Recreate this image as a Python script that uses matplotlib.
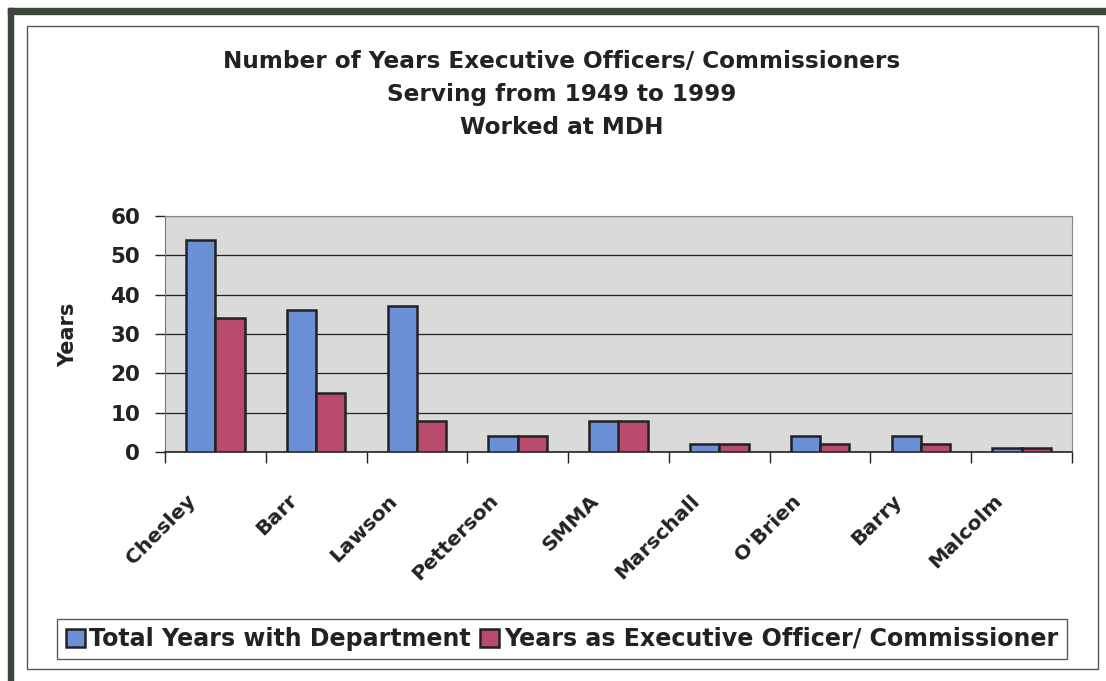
import numpy as np
import matplotlib
matplotlib.use("Agg")
from matplotlib import pyplot as plt
from matplotlib.patches import Rectangle
from matplotlib.transforms import ScaledTranslation

# data
names = ["Chesley", "Barr", "Lawson", "Petterson", "SMMA",
         "Marschall", "O'Brien", "Barry", "Malcolm"]
total_years = [54, 36, 37, 4, 8, 2, 4, 4, 1]
exec_years = [34, 15, 8, 4, 8, 2, 2, 2, 1]
series_labels = ["Total Years with Department",
                 "Years as Executive Officer/ Commissioner"]
title_lines = ["Number of Years Executive Officers/ Commissioners",
               "Serving from 1949 to 1999",
               "Worked at MDH"]
yticks = [0, 10, 20, 30, 40, 50, 60]

# wide bold face to mimic the spaced-out Arial of the scan
plt.rcParams['font.family'] = ['DejaVu Sans']
plt.rcParams['font.weight'] = 'bold'
plt.rcParams['axes.labelweight'] = 'bold'

W, H = 1106, 681
fig = plt.figure(figsize=(W / 100, H / 100), dpi=100)
fig.patch.set_facecolor('white')

# outer dark frame (top and left) and thin inner box
frame_col = '#3c463c'
fig.patches.append(Rectangle((8 / W, 1 - 14 / H), 1 - 8 / W, 6 / H,
                             transform=fig.transFigure, color=frame_col, zorder=0))
fig.patches.append(Rectangle((8 / W, 0), 5 / W, 1 - 8 / H,
                             transform=fig.transFigure, color=frame_col, zorder=0))
fig.patches.append(Rectangle((27 / W, 1 - 669 / H), (1098 - 27) / W, (669 - 26) / H,
                             transform=fig.transFigure, fill=False,
                             edgecolor='#555555', lw=1, zorder=0))

ax = fig.add_axes([165 / W, 1 - 452 / H, 907 / W, 236 / H])
ax.set_facecolor('#dadada')

x = np.arange(len(names))
w = 0.29
blue = '#6b90d6'
red = '#b84b6c'
b1 = ax.bar(x - w / 2, total_years, w, color=blue, edgecolor='#222222', lw=1.8,
            label=series_labels[0], zorder=3)
b2 = ax.bar(x + w / 2, exec_years, w, color=red, edgecolor='#222222', lw=1.8,
            label=series_labels[1], zorder=3)

ax.set_xlim(-0.5, len(names) - 0.5)
ax.set_ylim(0, 60)
ax.set_yticks(yticks)
ax.set_yticklabels([str(v) for v in yticks], fontsize=15.5, color='#222222')
ax.yaxis.grid(True, color='#222222', lw=0.9, zorder=1)
ax.set_axisbelow(True)

ax.set_xticks(x)
ax.set_xticklabels(names, rotation=45, ha='right', rotation_mode='anchor',
                   fontsize=14.7, color='#222222')
ax.set_xticks(np.arange(-0.5, len(names)), minor=True)
ax.tick_params(axis='x', which='major', length=0, pad=28)
ax.tick_params(axis='x', which='minor', length=8, width=1, color='#222222')
ax.tick_params(axis='y', length=7, width=1, color='#222222', pad=11)
shift = ScaledTranslation(-29 / 100, 0, fig.dpi_scale_trans)
for lab in ax.get_xticklabels():
    lab.set_transform(lab.get_transform() + shift)

for side in ['top', 'right']:
    ax.spines[side].set_color('#888888')
ax.spines['left'].set_color('#777777')
ax.spines['bottom'].set_color('#222222')
ax.spines['bottom'].set_linewidth(1.2)

ax.set_ylabel("Years", fontsize=15, color='#222222')
ax.yaxis.set_label_coords((78 - 165) / 907, (452 - 335) / 236)

for i, line in enumerate(title_lines):
    fig.text(562 / W, 1 - (62 + 33 * i) / H, line, ha='center', va='center',
             fontsize=16.7, color='#222222')

leg = fig.legend(handles=[b1, b2], loc='center', bbox_to_anchor=(562 / W, 1 - 639 / H),
                 ncol=2, fontsize=17.1, frameon=True, fancybox=False,
                 handlelength=0.8, handleheight=0.8, handletextpad=0.2,
                 columnspacing=0.4, borderpad=0.35, borderaxespad=0)
leg.get_frame().set_edgecolor('#333333')
leg.get_frame().set_linewidth(1)
for t in leg.get_texts():
    t.set_color('#222222')

fig.savefig("out.png", dpi=100)
